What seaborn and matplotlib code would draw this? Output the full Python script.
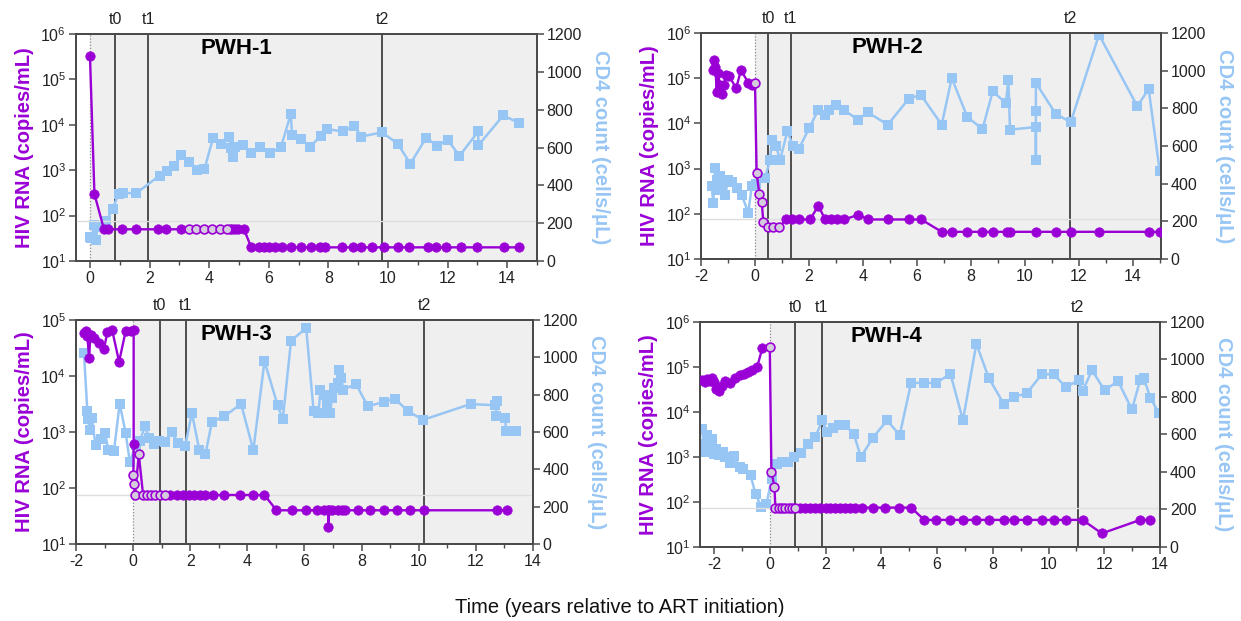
import matplotlib
matplotlib.use("Agg")
import matplotlib.pyplot as plt
import matplotlib.transforms as mtransforms
from matplotlib.ticker import MultipleLocator, LogLocator, NullLocator, LogFormatterSciNotation
import numpy as np
import pandas as pd
import seaborn as sns

sns.set_theme(style="white")
plt.rcParams["font.family"] = ["Liberation Sans", "DejaVu Sans"]
plt.rcParams["axes.unicode_minus"] = False

PURPLE = "#9a00d6"
BLUE = "#98c6f4"
OPEN_FILL = "#d4cbdc"

# ---------------- PWH-1 ----------------
pwh1_rna_x = [0.0, 0.15, 0.47, 0.59, 1.09, 1.54, 2.28, 2.55, 3.05, 3.33, 3.57, 3.83, 4.10, 4.37,
              4.61, 4.70, 4.78, 4.87, 4.98, 5.17, 5.41, 5.67, 5.84, 6.0, 6.2, 6.45, 6.73, 7.09,
              7.42, 7.73, 7.9, 8.46, 8.84, 9.1, 9.47, 9.85, 10.32, 10.72, 11.33, 11.61, 11.95,
              12.45, 13.0, 13.9, 14.4]
pwh1_rna_y = [330000, 300] + [50] * 18 + [20] * 25
pwh1_rna_open = [0] * 9 + [1] * 6 + [0] * 30
pwh1_cd4_x = [0.0, 0.05, 0.15, 0.2, 0.25, 0.54, 0.76, 0.96, 1.1, 1.55, 2.34, 2.57, 2.81, 3.07,
              3.34, 3.60, 3.84, 4.13, 4.40, 4.66, 4.73, 4.79, 4.86, 5.15, 5.42, 5.72, 6.05, 6.41,
              6.74, 6.78, 7.07, 7.40, 7.74, 7.97, 8.48, 8.87, 9.10, 9.80, 10.33, 10.75, 11.28,
              11.66, 12.0, 12.4, 13.03, 13.03, 13.87, 14.4]
pwh1_cd4_y = [125, 120, 190, 111, 180, 210, 274, 355, 360, 358, 452, 477, 503, 558, 526, 482,
              485, 650, 620, 658, 597, 552, 605, 611, 570, 605, 570, 602, 778, 667, 644, 605,
              662, 697, 685, 715, 658, 680, 620, 514, 651, 609, 641, 556, 685, 611, 770, 729]
pwh1_t = [0.85, 1.95, 9.8]

# ---------------- PWH-2 ----------------
pwh2_rna_x = [-1.57, -1.52, -1.47, -1.42, -1.37, -1.30, -1.22, -1.15, -1.08, -0.95, -0.70, -0.52,
              -0.25, -0.12, 0.0, 0.06, 0.16, 0.25, 0.31, 0.49, 0.68, 0.89, 1.15, 1.36, 1.64, 2.04,
              2.35, 2.6, 2.82, 3.03, 3.30, 3.83, 4.2, 4.94, 5.69, 6.16, 6.92, 7.29, 7.87, 8.43,
              8.81, 9.35, 9.45, 10.41, 11.14, 11.70, 12.75, 14.59, 15.0]
pwh2_rna_y = [150000, 250000, 180000, 50000, 130000, 70000, 45000, 70000, 120000, 110000, 60000,
              150000, 80000, 70000, 80000, 800, 280, 180, 65, 50, 50, 50, 75, 75, 75, 75, 150,
              75, 75, 75, 75, 95, 75, 75, 75, 75] + [40] * 13
pwh2_rna_open = [0] * 14 + [1] * 8 + [0] * 27
pwh2_cd4_x = [-1.6, -1.55, -1.48, -1.42, -1.36, -1.3, -1.24, -1.11, -0.99, -0.87, -0.68, -0.49,
              -0.25, -0.12, 0.05, 0.37, 0.56, 0.62, 0.78, 0.93, 1.2, 1.42, 1.63, 2.01, 2.35, 2.6,
              2.76, 3.0, 3.28, 3.81, 4.18, 4.92, 5.69, 6.14, 6.92, 7.29, 7.87, 8.43, 8.81, 9.3,
              9.39, 9.45, 10.41, 10.41, 10.41, 10.41, 11.14, 11.70, 12.75, 14.17, 14.59, 15.0]
pwh2_cd4_y = [386, 297, 483, 421, 368, 439, 400, 342, 421, 410, 377, 342, 244, 386, 400, 430,
              527, 634, 598, 527, 678, 598, 586, 696, 793, 766, 793, 819, 793, 740, 779, 713,
              850, 873, 713, 961, 754, 690, 890, 828, 952, 687, 701, 524, 784, 935, 772, 726,
              1191, 811, 903, 466]
pwh2_t = [0.5, 1.33, 11.68]

# ---------------- PWH-3 ----------------
pwh3_rna_x = [-1.72, -1.66, -1.60, -1.54, -1.49, -1.37, -1.19, -1.02, -0.90, -0.73, -0.49, -0.26,
              -0.08, 0.02, 0.02, 0.01, 0.02, 0.07, 0.20, 0.35, 0.48, 0.62, 0.78, 0.95, 1.12,
              1.30, 1.52, 1.73, 1.96, 2.15, 2.33, 2.51, 2.80, 3.20, 3.75, 4.20, 4.60,
              5.02, 5.55, 6.04, 6.43, 6.67, 6.84, 6.84, 6.85, 6.96, 7.19, 7.31, 7.43, 7.88,
              8.28, 8.80, 9.24, 9.68, 10.18, 12.73, 13.08]
pwh3_rna_y = [59000, 64000, 51000, 21000, 55000, 48000, 39000, 30000, 61000, 65000, 18000, 63000,
              63000, 65000, 600, 170, 118, 75, 400] + [75] * 6 + [75] * 12 + [40] * 6 + [20] + [40] * 13
pwh3_rna_open = [0] * 15 + [1] * 10 + [0] * 32
pwh3_cd4_x = [-1.72, -1.60, -1.57, -1.52, -1.45, -1.31, -1.13, -0.98, -0.87, -0.67, -0.47, -0.26,
              -0.11, 0.09, 0.23, 0.42, 0.56, 0.74, 0.91, 1.12, 1.36, 1.56, 1.82, 2.06, 2.32, 2.53,
              2.76, 3.19, 3.78, 4.21, 4.60, 5.06, 5.24, 5.53, 6.06, 6.32, 6.49, 6.56, 6.67, 6.73,
              6.78, 6.90, 6.96, 7.05, 7.17, 7.22, 7.28, 7.36, 7.80, 8.22, 8.77, 9.16, 9.63, 10.15,
              11.82, 12.68, 12.73, 12.70, 13.03, 13.05, 13.40]
pwh3_cd4_y = [1023, 711, 667, 613, 676, 529, 560, 595, 501, 497, 752, 595, 437, 533, 551, 631,
              569, 537, 551, 547, 601, 542, 524, 702, 501, 480, 654, 684, 750, 503, 979, 743,
              667, 1089, 1157, 711, 702, 827, 800, 702, 756, 702, 783, 836, 863, 934, 889, 827,
              857, 738, 761, 779, 711, 665, 750, 743, 768, 684, 676, 608, 608]
pwh3_t = [0.93, 1.84, 10.18]

# ---------------- PWH-4 ----------------
pwh4_rna_x = [-2.43, -2.34, -2.25, -2.15, -2.07, -2.0, -1.91, -1.83, -1.71, -1.59, -1.41, -1.23,
              -1.08, -0.93, -0.79, -0.63, -0.45, -0.27, 0.0, 0.06, 0.17, 0.2, 0.32, 0.44, 0.56,
              0.68, 0.80, 0.92, 1.1, 1.28, 1.46, 1.64, 1.82, 2.0, 2.17, 2.35, 2.53, 2.71, 2.89,
              3.07, 3.31, 3.7, 4.15, 4.65, 5.07, 5.54, 5.97, 6.48, 6.93, 7.41, 7.85, 8.39, 8.77,
              9.22, 9.76, 10.18, 10.62, 11.22, 11.91, 13.29, 13.65]
pwh4_rna_y = [52000, 46000, 55000, 50000, 57000, 46000, 33000, 29000, 37000, 50000, 43000, 57000,
              65000, 71000, 77000, 85000, 100000, 260000, 280000, 470, 215] + [75] * 7 + [75] * 17 \
             + [40] * 13 + [20, 40, 40]
pwh4_rna_open = [0] * 18 + [1] * 10 + [0] * 33
pwh4_cd4_x = [-2.43, -2.37, -2.34, -2.25, -2.15, -2.07, -2.01, -1.91, -1.83, -1.67, -1.59, -1.41,
              -1.29, -1.08, -0.96, -0.69, -0.51, -0.31, -0.12, 0.07, 0.26, 0.44, 0.65, 0.86,
              1.12, 1.36, 1.64, 1.88, 2.05, 2.27, 2.47, 2.71, 3.01, 3.27, 3.7, 4.21, 4.66, 5.07,
              5.54, 5.97, 6.48, 6.93, 7.41, 7.85, 8.39, 8.77, 9.22, 9.76, 10.18, 10.62, 11.08,
              11.22, 11.56, 12.01, 12.49, 12.99, 13.29, 13.41, 13.65, 13.95]
pwh4_cd4_y = [631, 548, 507, 596, 551, 578, 498, 524, 489, 507, 480, 448, 484, 427, 418, 382,
              284, 213, 228, 364, 444, 453, 453, 480, 501, 551, 587, 676, 613, 636, 649, 649,
              604, 480, 583, 676, 596, 875, 875, 875, 924, 676, 1084, 903, 764, 800, 821, 921,
              921, 853, 889, 832, 942, 836, 885, 734, 892, 903, 796, 715]
pwh4_t = [0.92, 1.86, 11.05]

panels = [
    dict(name="PWH-1", rect=[0.0612, 0.5797, 0.3715, 0.3655], xlim=(-0.47, 15.0), top=6,
         rx=pwh1_rna_x, ry=pwh1_rna_y, ro=pwh1_rna_open, cx=pwh1_cd4_x, cy=pwh1_cd4_y,
         t=pwh1_t, title_x=0.347),
    dict(name="PWH-2", rect=[0.5649, 0.5829, 0.3707, 0.3639], xlim=(-2.0, 15.05), top=6,
         rx=pwh2_rna_x, ry=pwh2_rna_y, ro=pwh2_rna_open, cx=pwh2_cd4_x, cy=pwh2_cd4_y,
         t=pwh2_t, title_x=0.404),
    dict(name="PWH-3", rect=[0.0612, 0.1240, 0.3683, 0.3607], xlim=(-2.0, 14.0), top=5,
         rx=pwh3_rna_x, ry=pwh3_rna_y, ro=pwh3_rna_open, cx=pwh3_cd4_x, cy=pwh3_cd4_y,
         t=pwh3_t, title_x=0.352),
    dict(name="PWH-4", rect=[0.5641, 0.1192, 0.3707, 0.3623], xlim=(-2.5, 14.0), top=6,
         rx=pwh4_rna_x, ry=pwh4_rna_y, ro=pwh4_rna_open, cx=pwh4_cd4_x, cy=pwh4_cd4_y,
         t=pwh4_t, title_x=0.406),
]

fig = plt.figure(figsize=(12.41, 6.21), dpi=100)
fig.patch.set_facecolor("white")

SPINE = "#4a4a4a"

for p in panels:
    ax = fig.add_axes(p["rect"])
    ax2 = ax.twinx()
    ax.set_zorder(ax2.get_zorder() + 1)
    ax.patch.set_visible(False)
    ax2.set_facecolor("white")

    ax.set_yscale("log")
    ax.set_xlim(*p["xlim"])
    ax.set_ylim(10, 10 ** p["top"])
    ax2.set_ylim(0, 1200)

    # background shading after ART start, reference lines
    ax2.axvspan(0, p["xlim"][1], color="#efefef", lw=0, zorder=0)
    ax2.axvline(0, color="#8a8a8a", ls=(0, (1, 1.5)), lw=0.9, zorder=1)
    for tv in p["t"]:
        ax2.axvline(tv, color="#333333", lw=1.2, zorder=1)
    ax.axhline(75, color="#dedede", lw=1.0, zorder=1)

    # CD4 series (right axis)
    sns.lineplot(x=p["cx"], y=p["cy"], ax=ax2, sort=False, estimator=None, color=BLUE,
                 lw=1.8, marker="s", markersize=7, markeredgewidth=0, zorder=2, legend=False)

    # HIV RNA series (left axis)
    sns.lineplot(x=p["rx"], y=p["ry"], ax=ax, sort=False, estimator=None, color=PURPLE,
                 lw=1.7, zorder=3, legend=False)
    rx = np.array(p["rx"]); ry = np.array(p["ry"]); ro = np.array(p["ro"], dtype=bool)
    sns.scatterplot(x=rx[~ro], y=ry[~ro], ax=ax, color=PURPLE, s=46, edgecolor=PURPLE,
                    linewidth=0.5, zorder=4, legend=False)
    sns.scatterplot(x=rx[ro], y=ry[ro], ax=ax, color=OPEN_FILL, s=40, edgecolor=PURPLE,
                    linewidth=1.2, zorder=5, legend=False)

    # ticks
    ax.xaxis.set_major_locator(MultipleLocator(2))
    ax.xaxis.set_minor_locator(MultipleLocator(1))
    ax.yaxis.set_major_locator(LogLocator(base=10, numticks=10))
    ax.yaxis.set_minor_locator(NullLocator())
    ax.yaxis.set_major_formatter(LogFormatterSciNotation())
    ax2.yaxis.set_major_locator(MultipleLocator(200))
    for a in (ax, ax2):
        a.tick_params(axis="both", which="major", direction="out", length=5, width=1.1,
                      color=SPINE, labelsize=11.5, labelcolor="#222222", pad=2)
        a.tick_params(axis="x", which="minor", direction="out", length=3, width=1.0, color=SPINE)
        a.tick_params(bottom=True, which="both")
        for s in a.spines.values():
            s.set_color(SPINE)
            s.set_linewidth(1.3)
        a.grid(False)
    ax.tick_params(left=True, right=False)
    ax2.tick_params(right=True, left=False)
    ax.set_xlabel("")

    ax.set_ylabel("HIV RNA (copies/mL)", color=PURPLE, fontsize=14.5, fontweight="bold",
                  va="center")
    ax.yaxis.set_label_coords(-0.112, 0.5)
    ax2.set_ylabel("CD4 count (cells/\u03bcL)", color=BLUE, fontsize=14.5, fontweight="bold",
                   rotation=270, va="center")
    ax2.yaxis.set_label_coords(1.138, 0.5)

    trans = mtransforms.blended_transform_factory(ax.transData, ax.transAxes)
    for lab, tv in zip(["t0", "t1", "t2"], p["t"]):
        ax.text(tv, 1.065, lab, transform=trans, ha="center", va="center", fontsize=11.5,
                color="#222222")
    ax.text(p["title_x"], 0.935, p["name"], transform=ax.transAxes, ha="center", va="center",
            fontsize=16, fontweight="bold", color="black", zorder=6)

fig.text(0.4996, 0.021, "Time (years relative to ART initiation)", ha="center", va="center",
         fontsize=14.5, color="#111111")

fig.savefig("out.png", dpi=100, facecolor="white")
